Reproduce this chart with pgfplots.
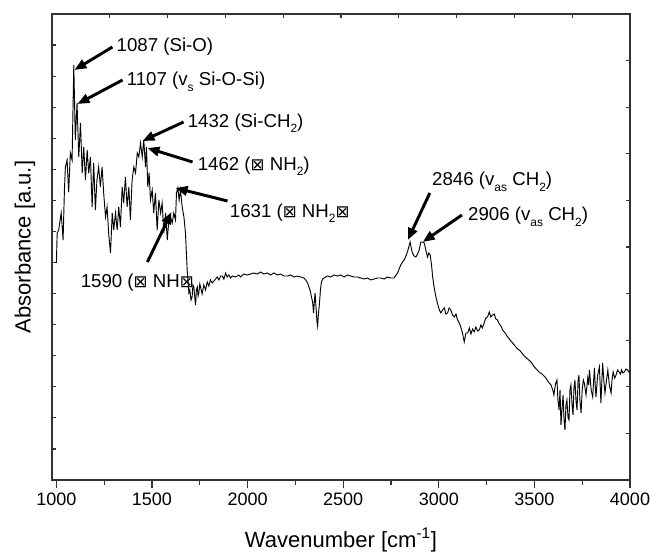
\documentclass[border=0pt]{standalone}
\usepackage{pgfplots}
\pgfplotsset{compat=1.18}
\usepackage{pgfplotstable}
\usepackage{fontspec}
\setmainfont{Liberation Sans}
\newfontfamily\symfont{DejaVu Sans}
\usetikzlibrary{arrows.meta}
\newcommand{\bx}{{\symfont\fontsize{12.5}{14}\selectfont ⊠}}
\newcommand{\sub}[1]{\raisebox{-0.55ex}{\fontsize{9}{10}\selectfont #1}}

% FTIR spectrum, wavenumber vs absorbance (a.u.)
\pgfplotstableread{
wn h
1000 217
1004 247
1012 250
1025 267
1035 240
1042 290
1047 313
1056 320
1064 288
1073 327
1082 320
1091 415
1099 340
1108 377
1117 323
1126 357
1135 307
1143 333
1152 300
1161 330
1169 307
1178 323
1187 273
1195 317
1204 270
1212 300
1221 313
1230 293
1239 313
1248 285
1257 263
1265 273
1274 245
1283 227
1292 267
1300 250
1309 267
1318 250
1326 273
1335 253
1344 293
1352 277
1361 303
1370 273
1379 293
1387 260
1396 300
1405 313
1414 307
1423 327
1431 323
1440 337
1449 323
1457 340
1466 313
1471 333
1478 293
1485 307
1492 280
1501 290
1509 267
1518 287
1527 250
1536 280
1545 267
1553 277
1562 247
1571 267
1580 240
1588 260
1597 263
1606 257
1614 267
1623 260
1628 287
1635 292
1642 280
1649 290
1658 273
1667 263
1675 247
1684 210
1689 197
1693 187
1698 190
1704 180
1710 183
1714 195
1719 193
1724 182
1728 175
1732 190
1737 193
1741 184
1745 187
1750 196
1754 193
1762 186
1771 195
1780 190
1789 198
1797 194
1806 200
1815 197
1824 199
1832 201
1841 203
1850 200
1859 204
1868 204
1876 201
1885 207
1893 203
1902 205
1911 202
1920 204
1937 203
1954 205
1963 203
1980 206
1998 205
2016 206
2033 207
2050 206
2068 208
2085 206
2103 207
2120 205
2138 207
2155 205
2173 206
2190 204
2208 204
2226 205
2243 203
2260 204
2278 203
2295 202
2304 200
2314 197
2321 193
2328 189
2334 183
2340 178
2345 167
2349 178
2353 187
2358 172
2363 158
2366 154
2370 165
2376 177
2381 190
2386 198
2393 201
2400 202
2417 204
2435 203
2452 205
2470 204
2487 205
2505 203
2522 205
2540 204
2557 203
2574 203
2592 202
2609 201
2627 202
2644 200
2661 201
2679 202
2696 202
2714 201
2731 203
2749 202
2766 202
2784 207
2801 215
2810 218
2819 220
2828 224
2836 228
2843 233
2850 238
2856 232
2862 227
2871 224
2880 223
2889 226
2897 230
2906 238
2915 238
2924 237
2932 230
2941 223
2948 227
2955 225
2962 215
2968 203
2976 192
2985 183
2994 176
3003 170
3011 167
3020 170
3029 172
3037 166
3046 167
3054 172
3063 170
3072 165
3081 163
3090 166
3098 160
3107 157
3115 153
3124 147
3133 138
3142 147
3151 147
3160 152
3168 146
3177 151
3185 148
3194 153
3203 149
3212 150
3220 155
3228 152
3237 157
3246 162
3255 163
3264 168
3272 163
3281 165
3290 166
3298 161
3307 160
3316 156
3325 154
3334 150
3342 148
3351 146
3360 143
3369 141
3377 139
3386 137
3395 135
3403 133
3412 131
3421 130
3430 128
3447 124
3465 121
3482 118
3500 113
3515 110
3524 108
3540 106
3550 104
3560 102
3573 98
3587 95
3596 90
3602 85
3610 96
3618 100
3623 80
3629 70
3634 90
3639 55
3645 72
3650 85
3655 60
3660 50
3665 75
3670 80
3676 62
3681 60
3686 90
3691 95
3697 75
3702 65
3707 92
3712 100
3718 78
3723 70
3728 98
3733 105
3738 80
3744 67
3750 90
3756 100
3761 97
3770 85
3779 102
3784 95
3788 110
3797 90
3805 83
3810 100
3814 112
3818 95
3822 83
3831 105
3840 113
3844 95
3848 77
3853 100
3857 117
3863 100
3869 87
3876 98
3884 110
3892 95
3901 87
3906 100
3912 108
3920 102
3927 105
3935 110
3943 108
3950 106
3956 110
3963 107
3970 108
3979 111
3988 110
3994 108
4000 109
}\spectrum

\begin{document}
\begin{tikzpicture}
\pgfplotsset{
  frame/.style={scale only axis, width=433.5pt, height=349.5pt,
    axis line style={draw=black!80, line width=1.1pt},
    every tick/.style={draw=black!80, line width=0.9pt}},
}
% left ticks (15 divisions), inside
\begin{axis}[frame, xmin=0, xmax=1, ymin=0, ymax=15,
  xtick=\empty, ytick={1,...,14}, ytick pos=left, yticklabels={},
  tick align=inside, major tick length=3pt, axis line style={draw=none}]
\end{axis}
% top and right ticks (10 divisions), inside
\begin{axis}[frame, xmin=0, xmax=10, ymin=0, ymax=10,
  xtick={1,...,9}, ytick={1,...,9}, xtick pos=upper, ytick pos=right,
  xticklabels={}, yticklabels={},
  tick align=inside, major tick length=3pt, axis line style={draw=none}]
\end{axis}
\begin{axis}[frame, name=main,
  xmin=977, xmax=4000, ymin=0, ymax=466,
  xtick={1000,1500,...,4000}, minor xtick={1250,1750,...,3750},
  ytick=\empty, xtick pos=lower,
  tick align=outside, major tick length=6pt, minor tick length=3.5pt,
  /pgf/number format/1000 sep={},
  /pgf/number format/assume math mode=true,
  ticklabel style={font=\fontsize{13.5}{16}\selectfont},
  xlabel={Wavenumber [cm\textsuperscript{-1}]},
  ylabel={Absorbance [a.u.]},
  label style={font=\fontsize{16.5}{19}\selectfont},
  xlabel style={at={(axis description cs:0.5,-0.129)}, anchor=center},
  ylabel style={at={(axis description cs:-0.047,0.5)}, anchor=center},
  clip=false,
]
\addplot[black, line width=0.7pt] table[x=wn, y=h] {\spectrum};

\begin{scope}[every node/.style={anchor=west, inner sep=0pt, font=\fontsize{14}{16}\selectfont},
  arr/.style={-{Triangle[length=9pt,width=7pt]}, line width=2.2pt, black}]
\node at (axis cs:1314,433) {1087 (Si-O)};
\draw[arr] (axis cs:1293,433) -- (axis cs:1094,410);
\node at (axis cs:1367,398) {1107 (v\sub{s} Si-O-Si)};
\draw[arr] (axis cs:1346,400) -- (axis cs:1110,376);
\node at (axis cs:1686,357) {1432 (Si-CH\sub{2})};
\draw[arr] (axis cs:1665,358) -- (axis cs:1450,339);
\node at (axis cs:1738,314) {1462 (\bx\ NH\sub{2})};
\draw[arr] (axis cs:1712,318) -- (axis cs:1476,332);
\node at (axis cs:1906,267) {1631 (\bx\ NH\sub{2}\bx};
\draw[arr] (axis cs:1895,279) -- (axis cs:1623,292);
\node at (axis cs:1126,197) {1590 (\bx\ NH\bx};
\draw[arr] (axis cs:1476,218) -- (axis cs:1602,268);
\node at (axis cs:2964,298) {2846 (v\sub{as} CH\sub{2})};
\draw[arr] (axis cs:2953,287) -- (axis cs:2838,240);
\node at (axis cs:3152,263) {2906 (v\sub{as} CH\sub{2})};
\draw[arr] (axis cs:3121,265) -- (axis cs:2916,238);
\end{scope}
\end{axis}
\pgfresetboundingbox
\path[use as bounding box] ([xshift=-39pt,yshift=-54.75pt]main.south west) rectangle ([xshift=15.75pt,yshift=10.5pt]main.north east);
\end{tikzpicture}
\end{document}
